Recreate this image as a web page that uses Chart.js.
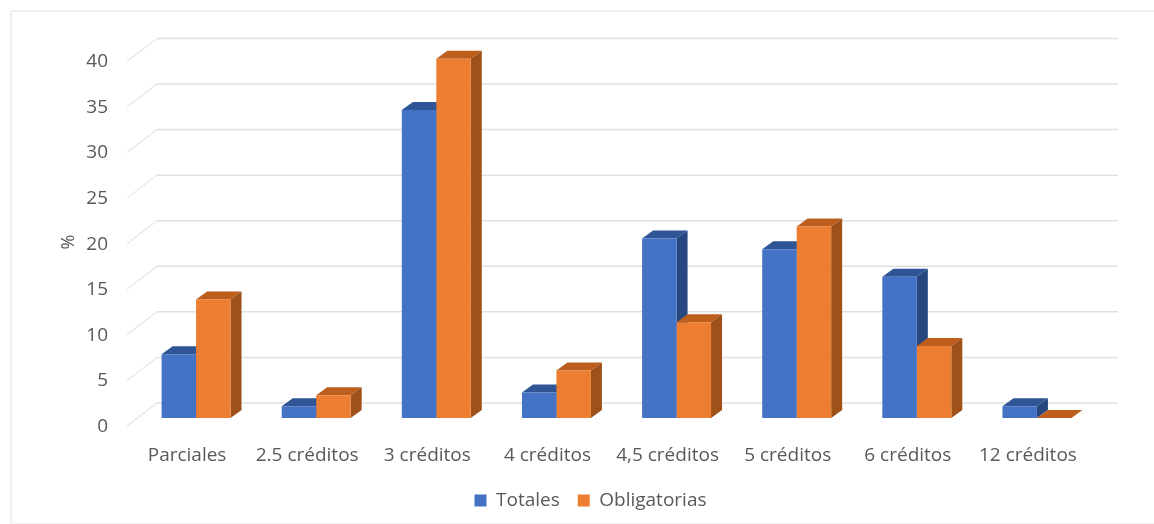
<!DOCTYPE html>
<html>
<head>
<meta charset="utf-8">
<script src="https://cdn.jsdelivr.net/npm/chart.js@4"></script>
<style>
  html, body { margin: 0; padding: 0; background: #fff; overflow: hidden; }
  #wrap { position: relative; width: 1154px; height: 524px; }
  #frame { position: absolute; left: 10px; top: 10px; width: 1144px; height: 514px; border-top: 2px solid #eeeeee; border-left: 2px solid #f0f0f0; border-bottom: 1px solid #f4f4f4; box-sizing: border-box; }
</style>
</head>
<body>
<div id="wrap">
  <canvas id="chart" width="1154" height="524"></canvas>
  <div id="frame"></div>
</div>
<script>
const categories = ['Parciales', '2.5 créditos', '3 créditos', '4 créditos', '4,5 créditos', '5 créditos', '6 créditos', '12 créditos'];
const totales = [7.0, 1.3, 33.8, 2.8, 19.7, 18.5, 15.5, 1.3];
const obligatorias = [13.0, 2.5, 39.4, 5.2, 10.5, 21.0, 7.9, 0];

const gray = '#595959';
const fontFamily = '"Open Sans", "Noto Sans", sans-serif';

// darker shades for the fake 3D faces, same order as the datasets
const topColors = ['#2F5597', '#BD5E1C'];
const sideColors = ['#264780', '#9E5118'];

const poly = (ctx, pts, color) => {
    ctx.fillStyle = color;
    ctx.beginPath();
    pts.forEach((p, i) => (i ? ctx.lineTo(p[0], p[1]) : ctx.moveTo(p[0], p[1])));
    ctx.closePath();
    ctx.fill();
};

// back wall grid with the diagonal floor part
const wallGrid = {
    id: 'wallGrid',
    beforeDatasetsDraw(chart) {
        const { ctx, scales: { x, y } } = chart;
        ctx.save();
        y.ticks.forEach((tick) => {
            const py = y.getPixelForValue(tick.value);
            ctx.lineWidth = 1.2;
            ctx.strokeStyle = '#E6E6E6';
            ctx.beginPath();
            ctx.moveTo(x.left - 9, py + 8);
            ctx.lineTo(x.left + 21, py - 15);
            ctx.stroke();
            ctx.lineWidth = 1.5;
            ctx.strokeStyle = '#E0E0E0';
            ctx.beginPath();
            ctx.moveTo(x.left + 21, py - 15);
            ctx.lineTo(x.right + 21, py - 15);
            ctx.stroke();
        });
        ctx.restore();
    },
};

// top and side faces of the bars, the fronts are the normal bar elements
const barDepth = {
    id: 'barDepth',
    beforeDatasetsDraw(chart) {
        const { ctx } = chart;
        const dx = 11;
        const dy = 8;
        ctx.save();
        categories.forEach((_, i) => {
            chart.data.datasets.forEach((ds, d) => {
                const bar = chart.getDatasetMeta(d).data[i];
                const l = bar.x - bar.width / 2;
                const r = bar.x + bar.width / 2;
                poly(ctx, [[l, bar.y], [l + dx, bar.y - dy], [r + dx, bar.y - dy], [r, bar.y]], topColors[d]);
                poly(ctx, [[r, bar.y], [r + dx, bar.y - dy], [r + dx, bar.base - dy], [r, bar.base]], sideColors[d]);
            });
        });
        ctx.restore();
    },
};

// legend sits centred under the whole canvas, and the % label is not centred on the axis
const placement = {
    id: 'placement',
    afterLayout(chart) {
        chart.legend.left += 42;
        chart.legend.right += 42;
    },
    afterDraw(chart) {
        const { ctx } = chart;
        ctx.save();
        ctx.translate(69, 242);
        ctx.rotate(-Math.PI / 2);
        ctx.fillStyle = gray;
        ctx.font = `18px ${fontFamily}`;
        ctx.textAlign = 'center';
        ctx.textBaseline = 'middle';
        ctx.fillText('%', 0, 0);
        ctx.restore();
    },
};

new Chart(document.getElementById('chart'), {
    type: 'bar',
    data: {
        labels: categories,
        datasets: [
            { label: 'Totales', data: totales, backgroundColor: '#4472C4' },
            { label: 'Obligatorias', data: obligatorias, backgroundColor: '#ED7D31' },
        ],
    },
    options: {
        responsive: false,
        animation: false,
        layout: { padding: { left: 0, right: 57, top: 53.4, bottom: 4 } },
        datasets: { bar: { categoryPercentage: 0.574, barPercentage: 1 } },
        plugins: {
            tooltip: { enabled: false },
            legend: {
                position: 'bottom',
                labels: {
                    color: gray,
                    font: { family: fontFamily, size: 19 },
                    boxWidth: 12,
                    boxHeight: 12,
                    padding: 18,
                },
            },
        },
        scales: {
            x: {
                grid: { display: false, drawTicks: false },
                border: { display: false },
                ticks: { color: gray, font: { family: fontFamily, size: 19 }, padding: 26, labelOffset: -9, maxRotation: 0, autoSkip: false },
                afterFit: (scale) => { scale.height = 55; },
            },
            y: {
                min: 0,
                max: 40,
                grid: { display: false, drawTicks: false },
                border: { display: false },
                ticks: { stepSize: 5, color: gray, font: { family: fontFamily, size: 19 }, padding: 28, labelOffset: 8.5 },
                afterFit: (scale) => { scale.width = 136; },
            },
        },
    },
    plugins: [wallGrid, barDepth, placement],
});
</script>
</body>
</html>
